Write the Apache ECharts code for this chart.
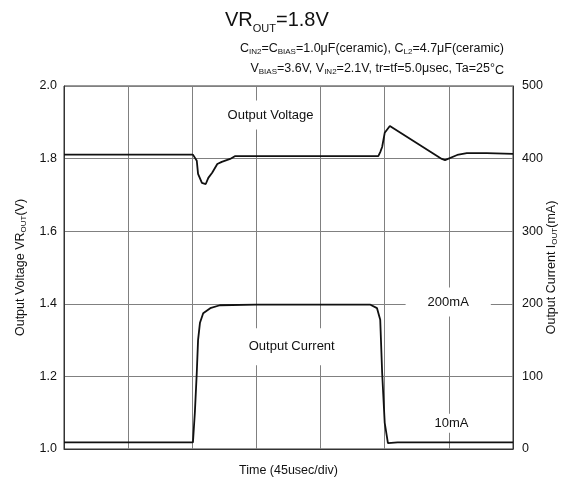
<!DOCTYPE html>
<html><head><meta charset="utf-8">
<script src="https://cdn.jsdelivr.net/npm/echarts@6/dist/echarts.min.js"></script>
<style>html,body{margin:0;padding:0;background:#fff}#c{width:564px;height:484px}</style>
</head><body><div id="c"></div>
<script>
// Time in divisions (45 usec/div)
const voltTime  = [0, 2.01, 2.07, 2.09, 2.15, 2.17, 2.21, 2.25, 2.31, 2.39, 2.46, 2.59, 2.67, 4.90, 4.93, 4.96, 5.00, 5.08, 5.89, 5.94, 6.13, 6.28, 6.59, 6.62, 7];
const voltValue = [1.811, 1.811, 1.794, 1.758, 1.733, 1.730, 1.730, 1.747, 1.761, 1.785, 1.791, 1.799, 1.807, 1.807, 1.818, 1.832, 1.871, 1.890, 1.799, 1.796, 1.810, 1.815, 1.815, 1.813, 1.813];
const currTime  = [0, 2.01, 2.04, 2.07, 2.09, 2.12, 2.17, 2.28, 2.43, 3.0, 4.77, 4.88, 4.93, 4.96, 5.00, 5.05, 5.2, 7];
const currValue = [9, 9, 50, 105, 150, 174, 187, 194, 198, 199, 199, 194, 178, 105, 36, 8, 9, 9];
const voltTicks = ['1.0', '1.2', '1.4', '1.6', '1.8', '2.0'];
const currTicks = ['0', '100', '200', '300', '400', '500'];
const notes = [
  {text: 'Output Voltage', t: 3.22, v: 1.920, pad: [8, 6]},
  {text: 'Output Current', t: 3.55, v: 1.282, pad: [12, 8]},
  {text: '200mA', t: 5.99, v: 1.405, pad: [8, 22]},
  {text: '10mA', t: 6.04, v: 1.071, pad: [3, 4]}
];

const FF = "'Liberation Sans', Arial, sans-serif";
const chart = echarts.init(document.getElementById('c'), null, {renderer: 'canvas'});
const toPairs = (a, b) => a.map((x, i) => [x, b[i]]);
const txt = (size, extra) => Object.assign({fontSize: size, fontFamily: FF, fontWeight: 'normal', color: '#111', verticalAlign: 'top'}, extra);

chart.setOption({
  animation: false,
  backgroundColor: '#fff',
  textStyle: {fontFamily: FF},
  title: [
    {
      left: 220, top: 5,
      text: '{m|VR}{s|OUT}{m|=1.8V}',
      textStyle: {fontWeight: 'normal', rich: {
        m: txt(20, {lineHeight: 22}),
        s: txt(11, {lineHeight: 11, padding: [13, 0, 0, 0]})
      }}
    },
    {
      right: 55, top: 37,
      text: '{m|C}{s|IN2}{m|=C}{s|BIAS}{m|=1.0μF(ceramic), C}{s|L2}{m|=4.7μF(ceramic)}',
      textStyle: {fontWeight: 'normal', rich: {
        m: txt(12.5, {lineHeight: 14}),
        s: txt(8, {lineHeight: 9, padding: [6, 0, 0, 0]})
      }}
    },
    {
      right: 55, top: 57,
      text: '{m|V}{s|BIAS}{m|=3.6V, V}{s|IN2}{m|=2.1V, tr=tf=5.0μsec, Ta=25°}{c|C}',
      textStyle: {fontWeight: 'normal', rich: {
        m: txt(12.5, {lineHeight: 14}),
        s: txt(8, {lineHeight: 9, padding: [6, 0, 0, 0]}),
        c: txt(12.5, {lineHeight: 14, padding: [2, 0, 0, 0]})
      }}
    }
  ],
  grid: {left: 64, right: 51, top: 86, bottom: 35, show: true, borderColor: '#333', borderWidth: 1,
         backgroundColor: 'transparent', containLabel: false, outerBoundsMode: 'none'},
  xAxis: {
    type: 'value', min: 0, max: 7, interval: 1,
    name: 'Time (45usec/div)', nameLocation: 'middle', nameGap: 15, nameMoveOverlap: false,
    nameTextStyle: {fontSize: 12.5, color: '#111', fontFamily: FF},
    axisLine: {show: true, lineStyle: {color: '#333'}},
    axisTick: {show: false}, axisLabel: {show: false},
    splitLine: {show: true, lineStyle: {color: '#808080', width: 1}}
  },
  yAxis: [
    {
      type: 'value', min: 1.0, max: 2.0, interval: 0.2, position: 'left',
      name: '{n|Output Voltage VR}{s|OUT}{n|(V)}', nameLocation: 'middle', nameGap: 36, nameMoveOverlap: false,
      nameTextStyle: {rich: {
        n: txt(12.5, {lineHeight: 14}),
        s: txt(8, {lineHeight: 9, padding: [6, 0, 0, 0]})
      }},
      axisLine: {show: true, lineStyle: {color: '#333'}},
      axisTick: {show: false},
      axisLabel: {fontSize: 12.5, color: '#111', margin: 7, fontFamily: FF,
        formatter: v => voltTicks[Math.round((v - 1.0) / 0.2)]},
      splitLine: {show: true, lineStyle: {color: '#808080', width: 1}}
    },
    {
      type: 'value', min: 0, max: 500, interval: 100, position: 'right',
      name: '{n|Output Current I}{s|OUT}{n|(mA)}', nameLocation: 'middle', nameGap: 32, nameMoveOverlap: false,
      nameTextStyle: {rich: {
        n: txt(12.5, {lineHeight: 14}),
        s: txt(8, {lineHeight: 9, padding: [6, 0, 0, 0]})
      }},
      axisLine: {show: true, lineStyle: {color: '#333'}},
      axisTick: {show: false},
      axisLabel: {fontSize: 12.5, color: '#111', margin: 9, fontFamily: FF,
        formatter: v => currTicks[Math.round(v / 100)]},
      splitLine: {show: false}
    }
  ],
  series: [
    {type: 'line', yAxisIndex: 0, data: toPairs(voltTime, voltValue), showSymbol: false,
     lineStyle: {color: '#111', width: 1.8}, z: 5},
    {type: 'line', yAxisIndex: 1, data: toPairs(currTime, currValue), showSymbol: false,
     lineStyle: {color: '#111', width: 1.8}, z: 5}
  ]
});

const g = notes.map(n => {
  const p = chart.convertToPixel({xAxisIndex: 0, yAxisIndex: 0}, [n.t, n.v]);
  return {
    type: 'text', x: p[0], y: p[1], z: 3,
    style: {text: n.text, fontSize: 13, fontFamily: FF, fill: '#111',
      align: 'center', verticalAlign: 'middle', backgroundColor: '#fff', padding: n.pad}
  };
});
chart.setOption({graphic: g});
</script>
</body></html>
